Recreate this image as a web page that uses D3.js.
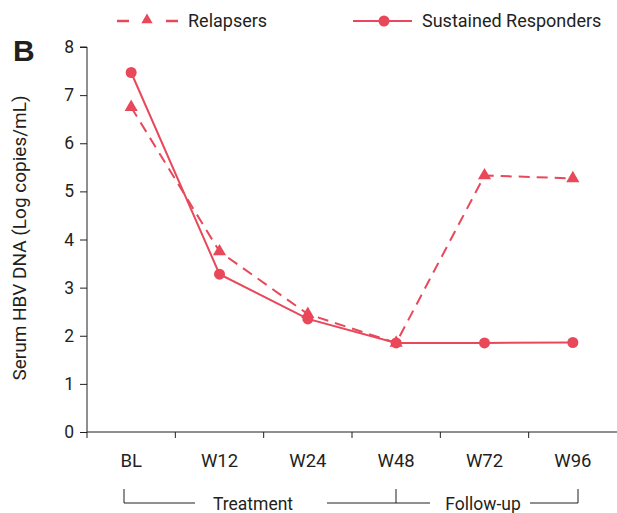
<!DOCTYPE html>
<html><head><meta charset="utf-8">
<script src="https://cdn.jsdelivr.net/npm/d3@7"></script>
<style>body{margin:0;background:#fff}svg{display:block}text{font-family:Roboto,"Liberation Sans",sans-serif;fill:#231f20}</style>
</head><body><svg id="c" width="617" height="513"></svg>
<script>
const categories = ["BL","W12","W24","W48","W72","W96"];
const relapsers = [6.75, 3.75, 2.45, 1.85, 5.33, 5.27];
const sustained = [7.47, 3.28, 2.35, 1.85, 1.85, 1.86];
const yTicks = [0,1,2,3,4,5,6,7,8];
const color = "#e8485a";

const svg = d3.select("#c");
const band = d3.scaleBand().domain(categories).range([87, 617]);
const xc = d => band(d) + band.bandwidth()/2;
const y = d3.scaleLinear().domain([0, 8]).range([432, 47]);

// y axis
const ya = svg.append("g").attr("transform","translate(87,0)")
  .call(d3.axisLeft(y).tickValues(yTicks).tickSize(7).tickPadding(6));
ya.select(".domain").attr("stroke","#231f20").attr("d","M-7,47H0V432");
ya.selectAll(".tick line").attr("stroke","#231f20");
ya.selectAll(".tick text").style("font-size","17.5px").attr("fill","#231f20");

// x axis
const xa = svg.append("g").attr("transform","translate(0,432)");
xa.append("line").attr("x1",87).attr("x2",617).attr("stroke","#231f20");
xa.selectAll("line.t").data(categories).enter().append("line")
  .attr("x1",d=>band(d)).attr("x2",d=>band(d)).attr("y1",0).attr("y2",6).attr("stroke","#231f20");
xa.selectAll("text").data(categories).enter().append("text")
  .attr("x",d=>xc(d)).attr("y",35).attr("text-anchor","middle")
  .style("font-size","18.5px").text(d=>d);

// y title
svg.append("text").attr("transform","translate(26,238) rotate(-90)")
  .attr("text-anchor","middle").style("font-size","19px").text("Serum HBV DNA (Log copies/mL)");
svg.append("text").attr("x",13).attr("y",61).style("font-family","Liberation Sans, Arial, sans-serif")
  .style("font-weight","bold").style("font-size","30px").text("B");

const line = d3.line().x((d,i)=>xc(categories[i])).y(d=>y(d));
svg.append("path").datum(relapsers).attr("d",line).attr("fill","none")
  .attr("stroke",color).attr("stroke-width",2).attr("stroke-dasharray","11,7");
svg.append("path").datum(sustained).attr("d",line).attr("fill","none")
  .attr("stroke",color).attr("stroke-width",2);
const tri = d3.symbol().type(d3.symbolTriangle).size(75);
svg.selectAll("path.tri").data(relapsers).enter().append("path")
  .attr("transform",(d,i)=>`translate(${xc(categories[i])},${y(d)})`).attr("d",tri).attr("fill",color);
svg.selectAll("circle.pt").data(sustained).enter().append("circle")
  .attr("cx",(d,i)=>xc(categories[i])).attr("cy",d=>y(d)).attr("r",5.5).attr("fill",color);

// legend
const lg = svg.append("g");
lg.append("line").attr("x1",117).attr("x2",129).attr("y1",21).attr("y2",21).attr("stroke",color).attr("stroke-width",2.5);
lg.append("line").attr("x1",166).attr("x2",178).attr("y1",21).attr("y2",21).attr("stroke",color).attr("stroke-width",2.5);
lg.append("path").attr("transform","translate(147,20)").attr("d",d3.symbol().type(d3.symbolTriangle).size(55)).attr("fill",color);
lg.append("text").attr("x",188).attr("y",27).style("font-size","18px").text("Relapsers");
lg.append("line").attr("x1",353).attr("x2",412).attr("y1",21).attr("y2",21).attr("stroke",color).attr("stroke-width",2);
lg.append("circle").attr("cx",384).attr("cy",21).attr("r",5.5).attr("fill",color);
lg.append("text").attr("x",422).attr("y",27).style("font-size","18px").text("Sustained Responders");

// bracket
const br = svg.append("g").attr("stroke","#231f20").attr("fill","none");
br.append("path").attr("d","M124,489V503H195");
br.append("path").attr("d","M327,503H430");
br.append("path").attr("d","M396,489V503");
br.append("path").attr("d","M530,503H578V489");
svg.append("text").attr("x",253).attr("y",510).attr("text-anchor","middle").style("font-size","17.5px").text("Treatment");
svg.append("text").attr("x",483).attr("y",510).attr("text-anchor","middle").style("font-size","17.5px").text("Follow-up");
</script></body></html>
